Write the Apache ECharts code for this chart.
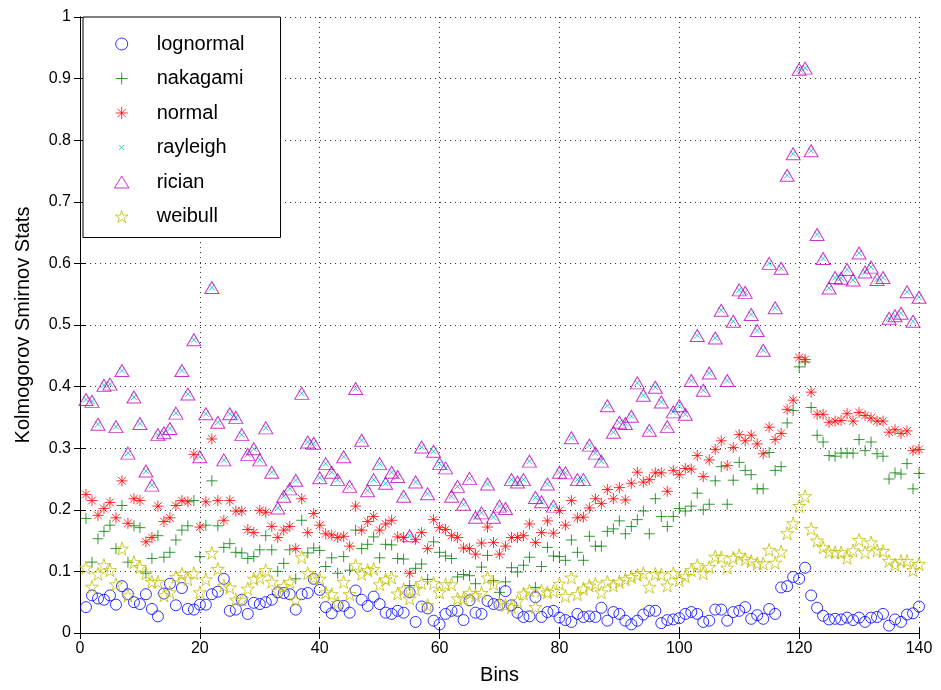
<!DOCTYPE html>
<html>
<head>
<meta charset="utf-8">
<script src="https://cdn.jsdelivr.net/npm/echarts@6/dist/echarts.min.js"></script>
<style>
  html, body { margin: 0; padding: 0; background: #fff; }
  #chart { width: 941px; height: 690px; }
</style>
</head>
<body>
<div id="chart"></div>
<script>
// Kolmogorov-Smirnov statistic per bin for each fitted distribution
const binCount = 140;
const bins = Array.from({ length: binCount }, (_, i) => i + 1);

const lognormal = [
  0.042, 0.061, 0.056, 0.054, 0.061, 0.046, 0.076, 0.063, 0.050, 0.047, 0.063, 0.039, 0.027, 0.064, 0.080, 0.045, 0.073, 0.039, 0.038, 0.046, 0.046, 0.063, 0.067, 0.088, 0.036, 0.038, 0.054, 0.031,
  0.049, 0.047, 0.050, 0.054, 0.066, 0.065, 0.063, 0.038, 0.063, 0.065, 0.088, 0.070, 0.042, 0.032, 0.044, 0.044, 0.033, 0.069, 0.054, 0.044, 0.059, 0.047, 0.033, 0.031, 0.036, 0.033, 0.066, 0.018,
  0.043, 0.040, 0.020, 0.014, 0.031, 0.036, 0.036, 0.021, 0.053, 0.033, 0.031, 0.052, 0.047, 0.046, 0.068, 0.045, 0.033, 0.026, 0.027, 0.058, 0.026, 0.034, 0.036, 0.025, 0.021, 0.018, 0.031, 0.026,
  0.027, 0.026, 0.041, 0.020, 0.034, 0.031, 0.020, 0.014, 0.020, 0.030, 0.036, 0.036, 0.016, 0.021, 0.022, 0.024, 0.031, 0.034, 0.031, 0.018, 0.020, 0.038, 0.038, 0.020, 0.034, 0.036, 0.042,
  0.023, 0.029, 0.023, 0.039, 0.031, 0.074, 0.076, 0.091, 0.088, 0.106, 0.061, 0.041, 0.028, 0.022, 0.023, 0.022, 0.025, 0.021, 0.025, 0.018, 0.025, 0.026, 0.031, 0.012, 0.022, 0.018, 0.030, 0.032, 0.043
];

const nakagami = [
  0.186, 0.115, 0.153, 0.165, 0.175, 0.137, 0.207, 0.115, 0.174, 0.171, 0.097, 0.121, 0.158, 0.123, 0.131, 0.151, 0.167, 0.174, 0.215, 0.124, 0.175, 0.247, 0.174, 0.139, 0.145, 0.131, 0.130, 0.121,
  0.124, 0.135, 0.158, 0.135, 0.100, 0.113, 0.135, 0.088, 0.183, 0.130, 0.138, 0.134, 0.108, 0.122, 0.097, 0.124, 0.102, 0.167, 0.137, 0.144, 0.156, 0.122, 0.144, 0.143, 0.121, 0.120, 0.077, 0.105,
  0.112, 0.087, 0.148, 0.131, 0.125, 0.121, 0.091, 0.095, 0.093, 0.080, 0.107, 0.126, 0.085, 0.066, 0.083, 0.106, 0.099, 0.110, 0.123, 0.074, 0.108, 0.139, 0.125, 0.124, 0.118, 0.151, 0.131, 0.118,
  0.157, 0.141, 0.141, 0.165, 0.169, 0.182, 0.161, 0.173, 0.184, 0.198, 0.161, 0.218, 0.189, 0.173, 0.189, 0.202, 0.198, 0.206, 0.227, 0.200, 0.209, 0.247, 0.270, 0.209, 0.248, 0.277, 0.264,
  0.257, 0.234, 0.234, 0.293, 0.264, 0.270, 0.341, 0.361, 0.432, 0.440, 0.366, 0.321, 0.310, 0.288, 0.287, 0.292, 0.292, 0.292, 0.314, 0.296, 0.310, 0.291, 0.287, 0.250, 0.260, 0.258, 0.275, 0.234, 0.259
];

const normal = [
  0.225, 0.215, 0.191, 0.202, 0.212, 0.187, 0.247, 0.178, 0.218, 0.215, 0.148, 0.155, 0.206, 0.181, 0.187, 0.207, 0.215, 0.213, 0.290, 0.172, 0.213, 0.315, 0.215, 0.183, 0.215, 0.198, 0.198, 0.168,
  0.163, 0.199, 0.196, 0.173, 0.155, 0.167, 0.173, 0.137, 0.218, 0.163, 0.194, 0.175, 0.161, 0.159, 0.155, 0.157, 0.141, 0.206, 0.167, 0.181, 0.189, 0.167, 0.177, 0.183, 0.156, 0.155, 0.097, 0.152,
  0.163, 0.137, 0.184, 0.171, 0.168, 0.158, 0.155, 0.138, 0.137, 0.128, 0.146, 0.172, 0.147, 0.128, 0.141, 0.155, 0.155, 0.158, 0.177, 0.147, 0.163, 0.182, 0.162, 0.199, 0.175, 0.215, 0.187, 0.188,
  0.203, 0.218, 0.210, 0.233, 0.218, 0.236, 0.216, 0.243, 0.261, 0.245, 0.249, 0.260, 0.260, 0.230, 0.264, 0.257, 0.267, 0.266, 0.288, 0.254, 0.281, 0.298, 0.312, 0.272, 0.301, 0.322, 0.312,
  0.321, 0.307, 0.291, 0.334, 0.314, 0.324, 0.363, 0.378, 0.447, 0.444, 0.391, 0.355, 0.355, 0.342, 0.344, 0.345, 0.356, 0.344, 0.358, 0.353, 0.349, 0.344, 0.344, 0.326, 0.330, 0.324, 0.328, 0.296, 0.298
];

const rayleigh = [
  0.379, 0.376, 0.339, 0.402, 0.404, 0.335, 0.426, 0.292, 0.383, 0.340, 0.263, 0.240, 0.322, 0.325, 0.332, 0.357, 0.426, 0.388, 0.476, 0.286, 0.356, 0.561, 0.342, 0.281, 0.356, 0.350, 0.322, 0.290,
  0.299, 0.281, 0.333, 0.261, 0.203, 0.222, 0.234, 0.248, 0.389, 0.310, 0.308, 0.252, 0.275, 0.261, 0.249, 0.286, 0.238, 0.397, 0.313, 0.231, 0.249, 0.275, 0.243, 0.261, 0.254, 0.222, 0.158, 0.245,
  0.302, 0.226, 0.295, 0.275, 0.268, 0.222, 0.238, 0.209, 0.251, 0.188, 0.195, 0.242, 0.188, 0.206, 0.202, 0.249, 0.245, 0.249, 0.279, 0.220, 0.213, 0.242, 0.206, 0.261, 0.260, 0.317, 0.249, 0.249,
  0.305, 0.292, 0.279, 0.369, 0.326, 0.342, 0.340, 0.352, 0.406, 0.386, 0.329, 0.399, 0.375, 0.335, 0.359, 0.369, 0.355, 0.410, 0.483, 0.394, 0.422, 0.479, 0.524, 0.410, 0.506, 0.557, 0.553,
  0.517, 0.491, 0.459, 0.600, 0.528, 0.592, 0.743, 0.778, 0.915, 0.917, 0.783, 0.647, 0.608, 0.560, 0.577, 0.576, 0.590, 0.573, 0.617, 0.586, 0.594, 0.574, 0.577, 0.511, 0.515, 0.519, 0.554, 0.506, 0.545
];

const rician = [
  0.379, 0.376, 0.339, 0.402, 0.404, 0.335, 0.426, 0.292, 0.383, 0.340, 0.263, 0.240, 0.322, 0.325, 0.332, 0.357, 0.426, 0.388, 0.476, 0.286, 0.356, 0.561, 0.342, 0.281, 0.356, 0.350, 0.322, 0.290,
  0.299, 0.281, 0.333, 0.261, 0.203, 0.222, 0.234, 0.248, 0.389, 0.310, 0.308, 0.252, 0.275, 0.261, 0.249, 0.286, 0.238, 0.397, 0.313, 0.231, 0.249, 0.275, 0.243, 0.261, 0.254, 0.222, 0.158, 0.245,
  0.302, 0.226, 0.295, 0.275, 0.268, 0.222, 0.238, 0.209, 0.251, 0.188, 0.195, 0.242, 0.188, 0.206, 0.202, 0.249, 0.245, 0.249, 0.279, 0.220, 0.213, 0.242, 0.206, 0.261, 0.260, 0.317, 0.249, 0.249,
  0.305, 0.292, 0.279, 0.369, 0.326, 0.342, 0.340, 0.352, 0.406, 0.386, 0.329, 0.399, 0.375, 0.335, 0.359, 0.369, 0.355, 0.410, 0.483, 0.394, 0.422, 0.479, 0.524, 0.410, 0.506, 0.557, 0.553,
  0.517, 0.491, 0.459, 0.600, 0.528, 0.592, 0.743, 0.778, 0.915, 0.917, 0.783, 0.647, 0.608, 0.560, 0.577, 0.576, 0.590, 0.573, 0.617, 0.586, 0.594, 0.574, 0.577, 0.511, 0.515, 0.519, 0.554, 0.506, 0.545
];

const weibull = [
  0.106, 0.075, 0.096, 0.110, 0.102, 0.079, 0.137, 0.061, 0.115, 0.107, 0.097, 0.083, 0.083, 0.061, 0.066, 0.091, 0.096, 0.087, 0.097, 0.066, 0.087, 0.130, 0.104, 0.077, 0.074, 0.054, 0.054, 0.072,
  0.088, 0.090, 0.102, 0.083, 0.068, 0.076, 0.083, 0.053, 0.123, 0.097, 0.090, 0.088, 0.066, 0.063, 0.049, 0.083, 0.063, 0.110, 0.096, 0.102, 0.104, 0.079, 0.087, 0.090, 0.064, 0.071, 0.056, 0.071,
  0.081, 0.045, 0.081, 0.066, 0.079, 0.079, 0.056, 0.056, 0.065, 0.061, 0.065, 0.090, 0.080, 0.048, 0.045, 0.042, 0.052, 0.064, 0.069, 0.042, 0.069, 0.066, 0.068, 0.080, 0.060, 0.090, 0.063, 0.072,
  0.077, 0.080, 0.066, 0.083, 0.077, 0.083, 0.087, 0.091, 0.094, 0.097, 0.075, 0.096, 0.095, 0.077, 0.097, 0.086, 0.092, 0.102, 0.110, 0.097, 0.107, 0.124, 0.123, 0.106, 0.122, 0.126, 0.120,
  0.117, 0.113, 0.113, 0.135, 0.114, 0.132, 0.162, 0.178, 0.206, 0.222, 0.169, 0.150, 0.139, 0.132, 0.131, 0.131, 0.122, 0.134, 0.151, 0.131, 0.147, 0.134, 0.133, 0.117, 0.111, 0.117, 0.117, 0.102, 0.112
];

const xTicks = [0, 20, 40, 60, 80, 100, 120, 140];
const yTickLabels = ['0', '0.1', '0.2', '0.3', '0.4', '0.5', '0.6', '0.7', '0.8', '0.9', '1'];

// Marker outlines (stroke only)
const CIRCLE = 'circle';
const PLUS = 'path://M5 0L5 10M0 5L10 5';
const ASTERISK = 'path://M5 0L5 10M0 5L10 5M1.5 1.5L8.5 8.5M8.5 1.5L1.5 8.5';
const CROSS = 'path://M0 0L10 10M10 0L0 10';
// same cross with empty margin so the legend icon stays small
const CROSS_SMALL = 'path://M-7 -7M17 17M0 0L10 10M10 0L0 10';
const TRIANGLE = 'path://M6 0L12 10L0 10Z';
const STAR = 'path://M50 0L61.23 34.55L97.55 34.55L68.17 55.9L79.39 90.45L50 69.1L20.61 90.45L31.83 55.9L2.45 34.55L38.77 34.55Z';

const FONT = '"Liberation Sans", Arial, Helvetica, sans-serif';

const seriesDefs = [
  { name: 'lognormal', values: lognormal, color: '#0000ff', symbol: CIRCLE, icon: CIRCLE, size: 11, lines: false },
  { name: 'nakagami', values: nakagami, color: '#008000', symbol: PLUS, icon: PLUS, size: 11, lines: true },
  { name: 'normal', values: normal, color: '#ff0000', symbol: ASTERISK, icon: ASTERISK, size: 11, lines: true },
  { name: 'rayleigh', values: rayleigh, color: '#00bfbf', symbol: CROSS, icon: CROSS_SMALL, size: 6, lines: true },
  { name: 'rician', values: rician, color: '#bf00bf', symbol: TRIANGLE, icon: TRIANGLE, size: [14, 12], lines: false },
  { name: 'weibull', values: weibull, color: '#bfbf00', symbol: STAR, icon: STAR, size: 13, lines: false }
];

// open outlines: line-only paths get the colour as fill too (no area to fill)
const markStyle = (s) => ({
  color: s.lines ? s.color : 'rgba(0,0,0,0)',
  borderColor: s.color,
  borderWidth: 1
});

const chart = echarts.init(document.getElementById('chart'), null, { renderer: 'canvas' });

const axisCommon = {
  axisLine: { show: true, lineStyle: { color: '#000', width: 1 } },
  axisTick: { show: true, inside: true, length: 6, lineStyle: { color: '#000' } },
  minorTick: { show: false }
};

chart.setOption({
  animation: false,
  backgroundColor: '#fff',
  grid: { left: 80, right: 22, top: 17, bottom: 57, show: false },
  legend: {
    orient: 'vertical',
    left: 83,
    top: 17,
    padding: [17, 36, 11, 31],
    itemGap: 14.5,
    itemWidth: 60,
    itemHeight: 12,
    symbolKeepAspect: true,
    backgroundColor: '#fff',
    borderColor: '#000',
    borderWidth: 1,
    textStyle: { fontFamily: FONT, fontSize: 20, color: '#000', lineHeight: 20 },
    data: seriesDefs.map(s => ({
      name: s.name,
      icon: s.icon,
      itemStyle: markStyle(s)
    }))
  },
  xAxis: [
    Object.assign({
      type: 'value', min: xTicks[0], max: xTicks[xTicks.length - 1], interval: 20,
      name: 'Bins', nameLocation: 'middle', nameGap: 32,
      nameTextStyle: { fontFamily: FONT, fontSize: 20, color: '#000' },
      axisLabel: { fontFamily: FONT, fontSize: 16, color: '#000', margin: 8 },
      splitLine: { show: true, lineStyle: { color: '#333', width: 1, type: [1, 4] } }
    }, axisCommon),
    Object.assign({
      type: 'value', position: 'top', min: xTicks[0], max: xTicks[xTicks.length - 1], interval: 20,
      axisLabel: { show: false }, splitLine: { show: false }
    }, axisCommon)
  ],
  yAxis: [
    Object.assign({
      type: 'value', min: 0, max: 1, interval: 0.1,
      name: 'Kolmogorov Smirnov Stats', nameLocation: 'middle', nameGap: 47,
      nameTextStyle: { fontFamily: FONT, fontSize: 20, color: '#000' },
      axisLabel: {
        fontFamily: FONT, fontSize: 16, color: '#000', margin: 9,
        formatter: (v) => yTickLabels[Math.round(v * 10)]
      },
      splitLine: { show: true, lineStyle: { color: '#333', width: 1, type: [1, 4] } }
    }, axisCommon),
    Object.assign({
      type: 'value', position: 'right', min: 0, max: 1, interval: 0.1,
      axisLabel: { show: false }, splitLine: { show: false }
    }, axisCommon)
  ],
  series: seriesDefs.map(s => ({
    name: s.name,
    type: 'scatter',
    xAxisIndex: 0,
    yAxisIndex: 0,
    symbol: s.symbol,
    symbolSize: s.size,
    itemStyle: markStyle(s),
    emphasis: { disabled: true },
    data: bins.map((b, i) => [b, s.values[i]])
  }))
});
</script>
</body>
</html>
